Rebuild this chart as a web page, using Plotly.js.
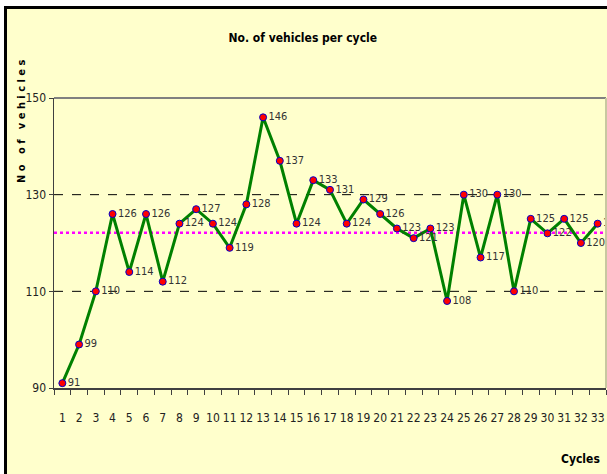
<!DOCTYPE html>
<html>
<head>
<meta charset="utf-8">
<script src="https://cdn.plot.ly/plotly-3.0.1.min.js"></script>
<style>
  html, body { margin: 0; padding: 0; background: #ffffff; width: 607px; height: 474px; overflow: hidden; }
  #frame { position: absolute; left: 4px; top: 6px; width: 603px; height: 468px;
           border-top: 3px solid #000; border-left: 3px solid #000; box-sizing: border-box; background: #FFFFCC; }
  #chart { width: 600px; height: 465px; }
</style>
</head>
<body>
<div id="frame"><div id="chart"></div></div>
<script>
// ---- data ----
const cycles = ["1","2","3","4","5","6","7","8","9","10","11","12","13","14","15","16","17",
                "18","19","20","21","22","23","24","25","26","27","28","29","30","31","32","33"];
const vehicles = [91, 99, 110, 126, 114, 126, 112, 124, 127, 124, 119, 128, 146, 137, 124, 133, 131,
                  124, 129, 126, 123, 121, 123, 108, 130, 117, 130, 110, 125, 122, 125, 120, 124];
const meanValue = 122.1;
const limitLines = [110, 130];
const yTicks = [90, 110, 130, 150];

const FONT = "'Liberation Sans Narrow', 'Arial Narrow', 'DejaVu Sans Condensed', 'Liberation Sans', Arial, sans-serif";

const trace = {
  type: "scatter",
  mode: "lines+markers+text",
  x: cycles,
  y: vehicles,
  text: vehicles.map(String),
  textposition: "middle right",
  textfont: { family: FONT, size: 11, color: "#333333" },
  line: { color: "#008000", width: 3 },
  marker: { color: "#FF0000", size: 7, line: { color: "#0000CC", width: 1 } },
  cliponaxis: false,
  hoverinfo: "x+y"
};

const shapes = [];
limitLines.forEach(v => shapes.push({
  type: "line", xref: "paper", yref: "y", x0: 0, x1: 1, y0: v, y1: v,
  line: { color: "#000000", width: 1, dash: "dash" }, layer: "below"
}));
shapes.push({
  type: "line", xref: "paper", yref: "y", x0: 0, x1: 1, y0: meanValue, y1: meanValue,
  line: { color: "#FF00FF", width: 2.5, dash: "dot" }, layer: "below"
});
// plot-area top and right borders
shapes.push({ type: "line", xref: "paper", yref: "paper", x0: 0, x1: 1, y0: 1, y1: 1,
  line: { color: "#808080", width: 2 } });
shapes.push({ type: "line", xref: "paper", yref: "paper", x0: 1, x1: 1, y0: 0, y1: 1,
  line: { color: "#C8C8A0", width: 2 } });

const layout = {
  width: 600, height: 465,
  margin: { l: 47, r: 1, t: 89, b: 86 },
  paper_bgcolor: "#FFFFCC",
  plot_bgcolor: "#FFFFCC",
  showlegend: false,
  font: { family: FONT, color: "#222222" },
  title: {
    text: "<b>No. of vehicles per cycle</b>",
    font: { family: FONT, size: 12, color: "#000000" },
    x: 0.493, xanchor: "center", xref: "container",
    y: 0.938, yanchor: "middle", yref: "container"
  },
  xaxis: {
    type: "category",
    range: [-0.5, 32.5],
    tickson: "boundaries",
    tickangle: 0,
    ticks: "outside", ticklen: 5, tickwidth: 1, tickcolor: "#404040",
    showline: true, linecolor: "#404040", linewidth: 2,
    showgrid: false, zeroline: false,
    tickfont: { family: FONT, size: 12, color: "#222222" },
    ticklabelstandoff: 18,
    fixedrange: true
  },
  yaxis: {
    range: [90, 150],
    tickvals: yTicks,
    ticktext: yTicks.map(String),
    ticks: "outside", ticklen: 4, tickwidth: 1, tickcolor: "#404040",
    showline: true, linecolor: "#404040", linewidth: 1.5,
    showgrid: false, zeroline: false,
    tickfont: { family: FONT, size: 12, color: "#222222" },
    fixedrange: true
  },
  shapes: shapes,
  annotations: [
    {
      text: "<b>N o &nbsp; o f &nbsp; v e h i c l e s</b>",
      xref: "paper", yref: "paper", x: -0.058, y: 0.921,
      xanchor: "center", yanchor: "middle", textangle: -90, showarrow: false,
      font: { family: FONT, size: 11, color: "#000000" }
    },
    {
      text: "<b>Cycles</b>",
      xref: "paper", yref: "paper", x: 0.953, y: -0.245,
      xanchor: "center", yanchor: "middle", showarrow: false,
      font: { family: FONT, size: 12, color: "#000000" }
    }
  ]
};

Plotly.newPlot("chart", [trace], layout, { displayModeBar: false, staticPlot: true });
</script>
</body>
</html>
